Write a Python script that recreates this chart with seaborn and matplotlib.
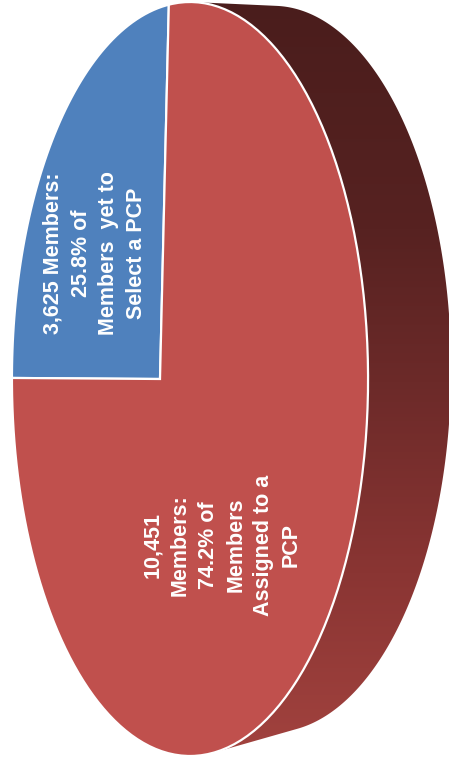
import numpy as np
import matplotlib
matplotlib.use("Agg")
import matplotlib.pyplot as plt
import matplotlib.transforms as mtransforms
from matplotlib.path import Path
from matplotlib.patches import Polygon
from matplotlib.colors import LinearSegmentedColormap
import seaborn as sns

# PCP assignment status of enrolled members
categories = ["Members yet to Select a PCP", "Members Assigned to a PCP"]
members = [3625, 10451]
shares = [25.8, 74.2]
labels = [
    "3,625 Members:\n25.8% of\nMembers  yet to\nSelect a PCP",
    "10,451\nMembers:\n74.2% of\nMembers\nAssigned to a\nPCP",
]
slice_colors = ["#4F81BD", "#C0504D"]

sns.set_theme(style="white")
plt.rcParams["font.family"] = ["Liberation Sans", "DejaVu Sans"]

W, H = 449, 765
fig = plt.figure(figsize=(W / 100, H / 100), dpi=100)
ax = fig.add_axes([0, 0, 1, 1])


class TiltedDisc(mtransforms.Transform):
    """Perspective view of a unit disc seen at an angle (a simple homography)."""
    input_dims = output_dims = 2
    is_separable = False
    has_inverse = False

    def __init__(self, cx, cy, sx, sy, g):
        super().__init__()
        self.cx, self.cy, self.sx, self.sy, self.g = cx, cy, sx, sy, g

    def transform_non_affine(self, values):
        values = np.asarray(values, dtype=float)
        u, v = values[:, 0], values[:, 1]
        w = 1.0 + self.g * u
        return np.column_stack([self.cx + self.sx * u / w, self.cy - self.sy * v / w])

    def transform_path_non_affine(self, path):
        # flatten the bezier arcs finely before projecting
        fine = mtransforms.Affine2D().scale(1000).transform_path(path)
        polys = fine.to_polygons(closed_only=True)
        parts = [Path(self.transform_non_affine(np.asarray(p) / 1000.0)) for p in polys]
        return Path.make_compound_path(*parts)

    def rim(self, n=720):
        t = np.linspace(0, 2 * np.pi, n)
        return self.transform_non_affine(np.column_stack([np.cos(t), np.sin(t)]))


top = TiltedDisc(cx=160, cy=379, sx=173, sy=371.6, g=-0.1685)
bottom = TiltedDisc(cx=243, cy=369, sx=173, sy=358, g=-0.1685)


def convex_hull(pts):
    pts = sorted(map(tuple, pts))
    def cross(o, a, b):
        return (a[0] - o[0]) * (b[1] - o[1]) - (a[1] - o[1]) * (b[0] - o[0])
    lower, upper = [], []
    for p in pts:
        while len(lower) >= 2 and cross(lower[-2], lower[-1], p) <= 0:
            lower.pop()
        lower.append(p)
    for p in reversed(pts):
        while len(upper) >= 2 and cross(upper[-2], upper[-1], p) <= 0:
            upper.pop()
        upper.append(p)
    return np.array(lower[:-1] + upper[:-1])


# side wall of the disc: hull of top and bottom rims, shaded top-to-bottom
hull = convex_hull(np.vstack([top.rim(), bottom.rim()]))
side_shape = Polygon(hull, closed=True, facecolor="none", edgecolor="none")
ax.add_patch(side_shape)
side_cmap = LinearSegmentedColormap.from_list(
    "side", [(0.0, "#4a1d1c"), (0.3, "#572221"), (0.5, "#6c2a29"),
             (0.75, "#8a3533"), (1.0, "#a3433f")])
grad = np.linspace(0, 1, 256).reshape(-1, 1)
img = ax.imshow(grad, cmap=side_cmap, extent=(0, W, H, 0), aspect="auto",
                interpolation="bilinear", zorder=1)
img.set_clip_path(side_shape)

# top face of the pie
wedges, _ = ax.pie(members, colors=slice_colors, startangle=87.1,
                   counterclock=True,
                   wedgeprops=dict(edgecolor="white", linewidth=1.6))
for w in wedges:
    w.set_transform(top + ax.transData)
    w.set_zorder(2)

ax.set_aspect("auto")
ax.set_xlim(0, W)
ax.set_ylim(H, 0)
ax.axis("off")

label_pos = [(95, 253), (222, 545)]
for text, (x, y) in zip(labels, label_pos):
    ax.text(x, y, text, rotation=90, ha="center", va="center",
            multialignment="center", color="white", fontsize=15.5,
            fontweight="bold", linespacing=1.42, zorder=3)

fig.savefig("out.png", dpi=100)
